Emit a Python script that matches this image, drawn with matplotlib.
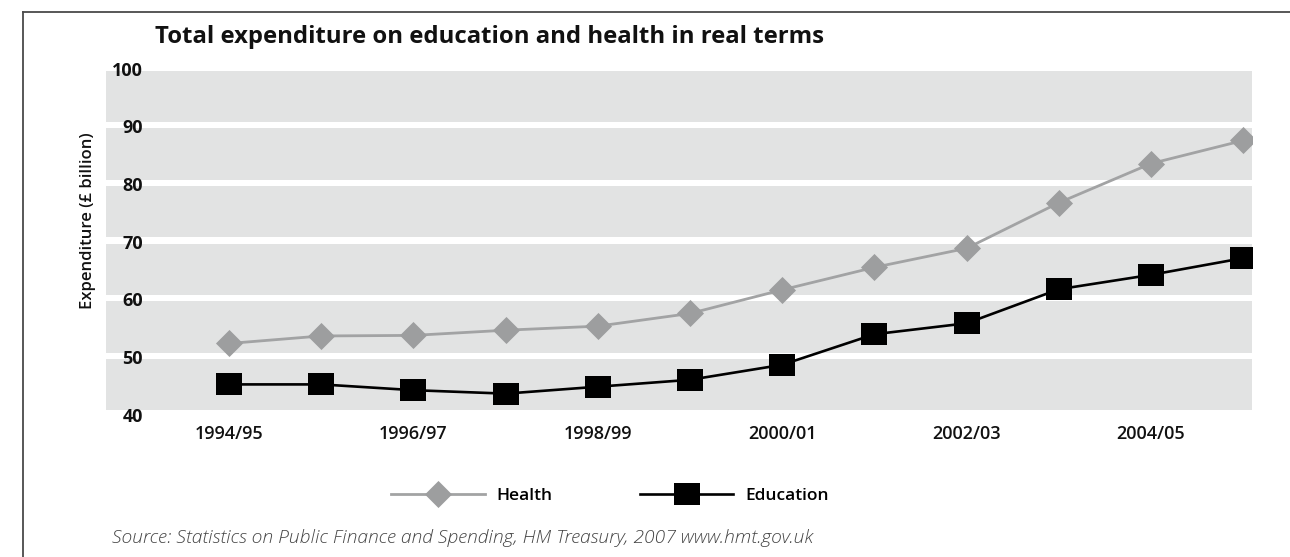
import matplotlib
matplotlib.use("Agg")
import matplotlib.pyplot as plt
from matplotlib.lines import Line2D

# Financial years plotted along the x axis
years = ["1994/95", "1995/96", "1996/97", "1997/98", "1998/99", "1999/00",
         "2000/01", "2001/02", "2002/03", "2003/04", "2004/05", "2005/06"]
# Only every second year is labelled
labelled_years = ["1994/95", "1996/97", "1998/99", "2000/01", "2002/03", "2004/05"]

# Expenditure in real terms (£ billion)
health = [52.7, 54.0, 54.1, 55.0, 55.7, 57.9, 62.0, 65.9, 69.2, 77.1, 83.9, 87.9]
education = [45.6, 45.6, 44.6, 44.0, 45.2, 46.4, 49.0, 54.3, 56.2, 62.1, 64.6, 67.5]

y_ticks = [40, 50, 60, 70, 80, 90, 100]

title = "Total expenditure on education and health in real terms"
y_label = "Expenditure (£ billion)"
source = "Source: Statistics on Public Finance and Spending, HM Treasury, 2007 www.hmt.gov.uk"

W, H = 1290, 557
fig = plt.figure(figsize=(W / 100, H / 100), dpi=100)
fig.patch.set_facecolor("white")

ax = fig.add_axes([106 / W, 1 - 416.7 / H, (1252 - 106) / W, (416.7 - 70.7) / H])
ax.set_facecolor("white")

x = list(range(len(years)))
ax.set_xlim(-1.334, 11.095)
ax.set_ylim(y_ticks[0], y_ticks[-1])

# Horizontal grey bands separated by thin white gaps
for lo, hi in zip(y_ticks[:-1], y_ticks[1:]):
    ax.axhspan(lo + 1.1, hi, color="#e2e3e3", lw=0, zorder=0)

diamond = [(0, 1), (1, 0), (0, -1), (-1, 0), (0, 1)]
rect = [(-1.24, -1), (1.24, -1), (1.24, 1), (-1.24, 1), (-1.24, -1)]

ax.plot(x, health, color="#a2a3a4", lw=2.0, marker=diamond, markersize=19.5,
        markerfacecolor="#9d9e9f", markeredgewidth=0, label="Health", zorder=3)
ax.plot(x, education, color="#000000", lw=1.9, marker=rect, markersize=19,
        markerfacecolor="#000000", markeredgewidth=0, label="Education", zorder=4)

for s in ax.spines.values():
    s.set_visible(False)

tick_pos = [years.index(y) for y in labelled_years]
ax.set_xticks(tick_pos)
ax.set_xticklabels(labelled_years, fontsize=13, fontweight="semibold",
                   family="Open Sans", color="#111111")
ax.tick_params(axis="x", length=0, pad=6)
ax.set_yticks([])

# Y tick labels sit just inside the left edge of the plot
ytrans = ax.get_yaxis_transform()
for v in y_ticks:
    ax.text((143 - 106) / (1252 - 106), v, str(v), transform=ytrans,
            ha="right", va="center", fontsize=13, fontweight="bold",
            family="Open Sans", color="#111111")

fig.text(88 / W, 1 - 221 / H, y_label, rotation=90, ha="center", va="center",
         fontsize=12, fontweight="semibold", family="Open Sans", color="#111111")

fig.text(155 / W, 1 - 37 / H, title, ha="left", va="center",
         fontsize=17.2, fontweight="bold", family="Open Sans", color="#111111")

leg = fig.legend(loc="center", bbox_to_anchor=(610 / W, 1 - 496 / H), ncol=2,
                 frameon=False, handlelength=5.4, handletextpad=0.7,
                 columnspacing=5.0,
                 prop={"family": "Open Sans", "weight": "semibold", "size": 12.5})

fig.text(112 / W, 1 - 538 / H, source, ha="left", va="center",
         fontsize=13.9, fontstyle="italic", fontweight="light", family="Open Sans",
         color="#444444")

# Frame lines along the top and left edges
frame_kw = dict(color="#4a4a4a", lw=1.3, transform=fig.transFigure)
fig.add_artist(Line2D([22.5 / W, 1.0], [1 - 12 / H, 1 - 12 / H], **frame_kw))
fig.add_artist(Line2D([22.5 / W, 22.5 / W], [0.0, 1 - 12 / H], **frame_kw))

fig.savefig("out.png", dpi=100, facecolor="white")
